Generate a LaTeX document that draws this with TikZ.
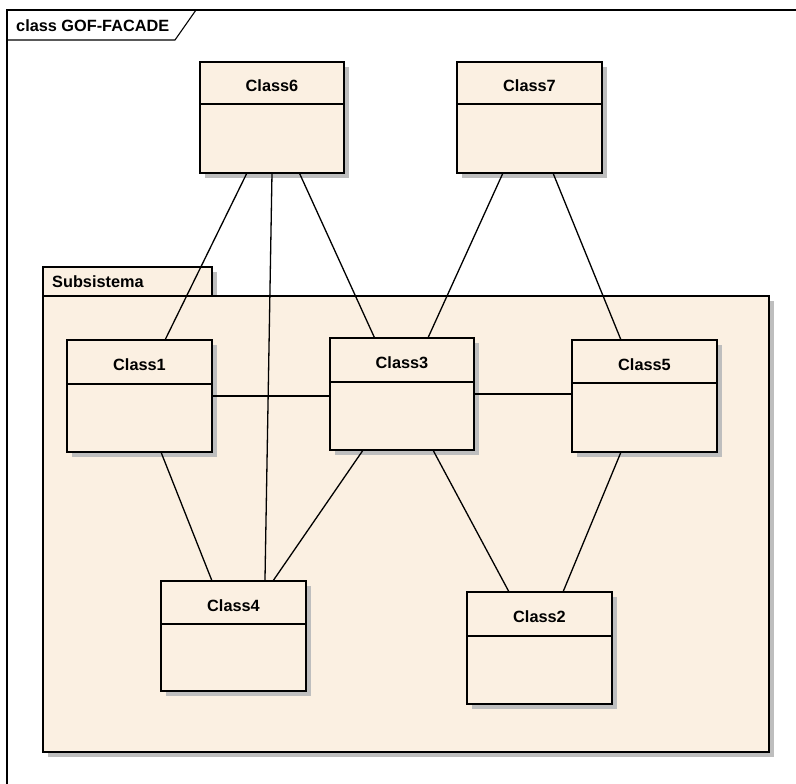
\documentclass[tikz,border=0pt]{standalone}
\usepackage{fontspec}
\setmainfont{Liberation Sans}
\usetikzlibrary{calc,shadows}

\definecolor{umlfill}{RGB}{251,240,226}
\definecolor{umlshadow}{RGB}{190,190,190}

\tikzset{
  boxline/.style={draw=black, line width=1.7pt},
  shaded box/.style={boxline, fill=umlfill, rectangle, inner sep=0pt, outer sep=0pt,
    anchor=north west,
    drop shadow={shadow xshift=5pt, shadow yshift=-5pt, fill=umlshadow, opacity=1}},
  assoc/.style={draw=black, line width=1.3pt},
  titletext/.style={font=\fontsize{16.3}{19}\selectfont\bfseries, inner sep=0pt},
}

% #1 name, #2 x, #3 y, #4 width, #5 height, #6 divider offset, #7 class name
\newcommand{\umlclass}[7]{%
  \node[shaded box, minimum width=#4pt, minimum height=#5pt] (#1) at (#2,#3) {};
  \draw[boxline] ($(#1.north west)+(0,#6)$) -- ($(#1.north east)+(0,#6)$);
  \node[titletext, anchor=base] (#1-name) at ($(#1.north)+(0,30)$) {#7};
}
% point at fraction #2 along the top or bottom edge of node #1
\newcommand{\topat}[2]{($(#1.north west)!#2!(#1.north east)$)}
\newcommand{\botat}[2]{($(#1.south west)!#2!(#1.south east)$)}

\begin{document}
\begin{tikzpicture}[x=1pt, y=-1pt]
  \useasboundingbox (0,0) rectangle (796,784);
  \clip (0,0) rectangle (796,784);

  % diagram frame with its name tab
  \draw[line width=1.1pt] (800,10) -- (7,10) -- (7,790);
  \coordinate (tabbl) at (7,40);
  \coordinate (tabbr) at (175,40);
  \coordinate (tabtr) at (196,10);
  \draw[line width=1.1pt] (tabbl) -- (tabbr) -- (tabtr);
  \node[titletext, anchor=base west] (frametitle) at (16,32) {class GOF-FACADE};

  % package Subsistema
  \node[shaded box, minimum width=169pt, minimum height=29pt] (pkgtab) at (43,267) {};
  \node[shaded box, minimum width=726pt, minimum height=456pt] (pkg) at (43,296) {};
  \node[titletext, anchor=base west] (pkgname) at (52,287) {Subsistema};

  % classes
  \umlclass{c6}{200}{62}{144}{111}{42}{Class6}
  \umlclass{c7}{457}{62}{145}{111}{42}{Class7}
  \umlclass{c1}{67}{340}{145}{112}{44}{Class1}
  \umlclass{c3}{330}{338}{144}{112}{44}{Class3}
  \umlclass{c5}{572}{340}{145}{112}{43}{Class5}
  \umlclass{c4}{161}{581}{145}{110}{43}{Class4}
  \umlclass{c2}{467}{592}{145}{112}{44}{Class2}

  % associations
  \draw[assoc] \botat{c6}{0.326} -- \topat{c1}{0.676};
  \draw[assoc] \botat{c6}{0.5}   -- \topat{c4}{0.717};
  \draw[assoc] \botat{c6}{0.69}  -- \topat{c3}{0.31};
  \draw[assoc] \botat{c7}{0.317} -- \topat{c3}{0.68};
  \draw[assoc] \botat{c7}{0.662} -- \topat{c5}{0.338};
  \draw[assoc] (c1.east) -- (c1.east -| c3.west);
  \draw[assoc] (c3.east) -- (c3.east -| c5.west);
  \draw[assoc] \botat{c1}{0.648} -- \topat{c4}{0.352};
  \draw[assoc] \botat{c3}{0.23}  -- \topat{c4}{0.772};
  \draw[assoc] \botat{c3}{0.715} -- \topat{c2}{0.29};
  \draw[assoc] \botat{c5}{0.338} -- \topat{c2}{0.662};
\end{tikzpicture}
\end{document}
